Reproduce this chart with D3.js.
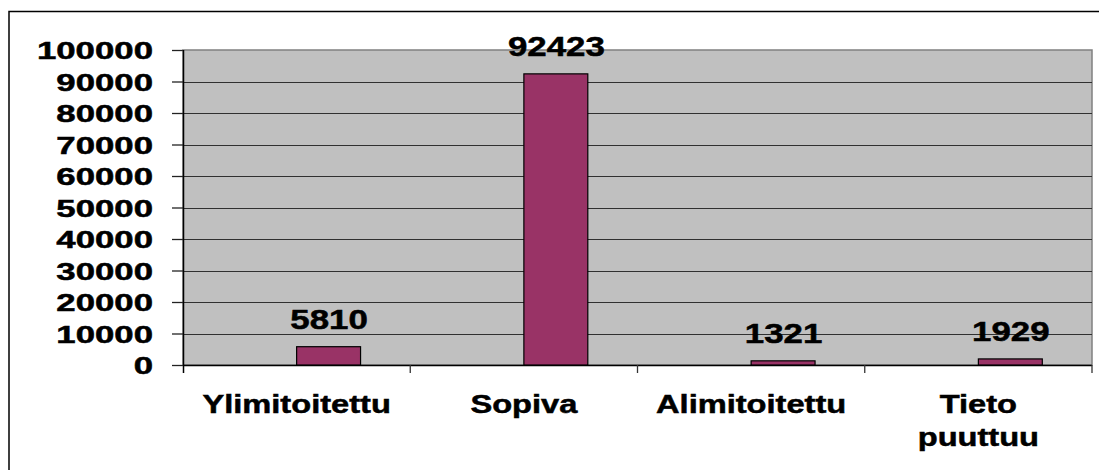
<!DOCTYPE html>
<html>
<head>
<meta charset="utf-8">
<script src="https://cdn.jsdelivr.net/npm/d3@7"></script>
<style>
  body { margin: 0; background: #fff; }
  text { font-family: "Liberation Sans", Arial, sans-serif; font-weight: bold; fill: #000; stroke: #000; stroke-width: 0.5px; }
</style>
</head>
<body>
<div id="chart"></div>
<script>
// data
const categories = ["Ylimitoitettu", "Sopiva", "Alimitoitettu", "Tieto puuttuu"];
const categoryLines = [["Ylimitoitettu"], ["Sopiva"], ["Alimitoitettu"], ["Tieto", "puuttuu"]];
const series = ["tyhjä", "Määrä"];   // first series is empty in the original chart
const values = [5810, 92423, 1321, 1929];
const yTicks = [0, 10000, 20000, 30000, 40000, 50000, 60000, 70000, 80000, 90000, 100000];

const width = 1099;
const height = 470;
const plot = {left: 183, top: 50, right: 1092, bottom: 365};

const svg = d3.select("#chart").append("svg")
    .attr("width", width)
    .attr("height", height);

// outer chart frame
svg.append("rect")
    .attr("x", 9)
    .attr("y", 11.5)
    .attr("width", width + 20)
    .attr("height", height + 20)
    .attr("fill", "#fff")
    .attr("stroke", "#000")
    .attr("stroke-width", 1.5);

//----------------------------SCALES----------------------------//
const x = d3.scaleBand()
    .domain(categories)
    .range([plot.left, plot.right]);

// excel style cluster: gap width 150%, two series
const xInner = d3.scaleBand()
    .domain(series)
    .range([0, x.bandwidth()])
    .paddingInner(0)
    .paddingOuter(0.75);

const y = d3.scaleLinear()
    .domain([0, 100000])
    .range([plot.bottom, plot.top]);

// plot area
svg.append("rect")
    .attr("x", plot.left)
    .attr("y", plot.top)
    .attr("width", plot.right - plot.left)
    .attr("height", plot.bottom - plot.top)
    .attr("fill", "#c0c0c0")
    .attr("stroke", "#808080")
    .attr("stroke-width", 1.5);

// gridlines
svg.append("g")
    .selectAll("line")
    .data(yTicks.filter(d => d > 0 && d < 100000))
    .join("line")
    .attr("x1", plot.left)
    .attr("x2", plot.right)
    .attr("y1", d => Math.round(y(d)) + 0.5)
    .attr("y2", d => Math.round(y(d)) + 0.5)
    .attr("stroke", "#303030")
    .attr("stroke-width", 1);

//-----------------------------AXES-----------------------------//
const yAxis = svg.append("g")
    .attr("transform", `translate(${plot.left},0)`)
    .call(d3.axisLeft(y).tickValues(yTicks).tickSize(11).tickFormat(d3.format("d")));
yAxis.select(".domain")
    .attr("d", `M0.5,${plot.top}V${plot.bottom + 8}`)
    .attr("stroke", "#000")
    .attr("stroke-width", 1.5);
yAxis.selectAll(".tick line").attr("stroke", "#222").attr("stroke-width", 1.3);
yAxis.selectAll(".tick text")
    .attr("x", null)
    .attr("dy", "0.36em")
    .attr("transform", "translate(-30,0) scale(1.42,1)")
    .style("font-size", "24.5px")
    .style("font-family", "'Liberation Sans', Arial, sans-serif")
    .style("font-weight", "bold")
    .attr("fill", "#000");

// category axis
svg.append("line")
    .attr("x1", plot.left)
    .attr("x2", plot.right)
    .attr("y1", plot.bottom + 0.5)
    .attr("y2", plot.bottom + 0.5)
    .attr("stroke", "#000")
    .attr("stroke-width", 1.5);

svg.append("g")
    .selectAll("line")
    .data(categories.slice(1).concat(["end"]))
    .join("line")
    .attr("x1", d => d === "end" ? x.range()[1] : x(d))
    .attr("x2", d => d === "end" ? x.range()[1] : x(d))
    .attr("y1", plot.bottom)
    .attr("y2", plot.bottom + 8)
    .attr("stroke", "#333")
    .attr("stroke-width", 1.3);

const catLabels = svg.append("g")
    .selectAll("text")
    .data(categories)
    .join("text")
    .attr("transform", d => `translate(${x(d) + x.bandwidth() / 2},413) scale(1.28,1)`)
    .attr("text-anchor", "middle")
    .style("font-size", "25.5px");

catLabels.selectAll("tspan")
    .data((d, i) => categoryLines[i])
    .join("tspan")
    .attr("x", 0)
    .attr("y", (d, i) => i * 33.5)
    .text(d => d);

//----------------------------BARS-----------------------------//
const bx = d => x(d) + xInner("Määrä");

svg.append("g")
    .selectAll("rect")
    .data(categories)
    .join("rect")
    .attr("x", d => bx(d))
    .attr("y", (d, i) => y(values[i]))
    .attr("width", xInner.bandwidth() - 1)
    .attr("height", (d, i) => y(0) - y(values[i]))
    .attr("fill", "#993366")
    .attr("stroke", "#000")
    .attr("stroke-width", 1.2);

svg.append("g")
    .selectAll("text")
    .data(categories)
    .join("text")
    .attr("transform", (d, i) => `translate(${bx(d) + xInner.bandwidth() / 2},${y(values[i]) - 17.5}) scale(1.29,1)`)
    .attr("text-anchor", "middle")
    .style("font-size", "27px")
    .text((d, i) => values[i]);
</script>
</body>
</html>
